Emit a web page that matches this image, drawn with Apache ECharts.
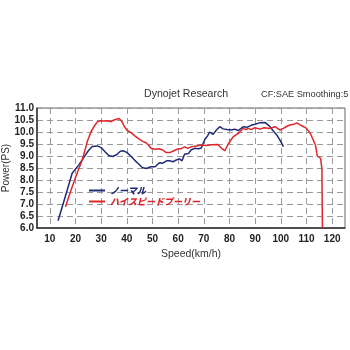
<!DOCTYPE html>
<html>
<head>
<meta charset="utf-8">
<script src="https://cdn.jsdelivr.net/npm/echarts@6/dist/echarts.min.js"></script>
<style>
  html, body { margin: 0; padding: 0; background: #fff; }
  #chart { width: 350px; height: 350px; }
</style>
</head>
<body>
<div id="chart"></div>
<script>
// Dyno power curves: speed (km/h) vs power (PS)
const seriesNames = ['ノーマル', 'ハイスピードプーリー'];

const normalSpeed = [13.2, 16, 18.7, 21.3, 23, 25, 26.5, 28.5, 30, 31.5, 33, 34.5, 36, 37.5, 38.5, 40, 41.5, 43, 44.5, 46, 47.5, 49.4, 51, 52.7, 54, 55.5, 56.6, 58, 59, 60.5, 61.5, 62.5, 64, 65, 66.4, 68, 69, 70.3, 71.5, 72.3, 73.6, 74.9, 76.2, 77.5, 79, 80.8, 82, 83.4, 85.3, 87, 88.6, 90, 91.9, 93.8, 95, 95.8, 97, 98.4, 100, 101];
const normalPower = [6.3, 7.3, 8.28, 8.63, 8.9, 9.22, 9.4, 9.42, 9.35, 9.18, 9.02, 8.98, 9.05, 9.2, 9.22, 9.15, 9.0, 8.83, 8.68, 8.52, 8.48, 8.55, 8.55, 8.72, 8.7, 8.8, 8.8, 8.76, 8.82, 8.88, 8.8, 9.07, 9.1, 9.25, 9.32, 9.3, 9.33, 9.67, 9.85, 10.0, 9.9, 10.08, 10.22, 10.13, 10.1, 10.08, 10.12, 10.06, 10.22, 10.2, 10.29, 10.32, 10.39, 10.4, 10.3, 10.22, 10.05, 9.88, 9.6, 9.39];

const pulleySpeed = [16.1, 18, 20, 22.6, 24.6, 26, 27.3, 28.5, 29.6, 31, 32.5, 33.8, 35, 37, 38, 39, 40, 41.5, 43, 44.8, 46, 47.5, 48.5, 49.4, 51, 52.5, 54, 55.2, 55.9, 57, 57.9, 59.8, 61, 62.5, 63.8, 65, 67, 69, 71, 73, 75.5, 76.9, 78.2, 79.5, 81.4, 83.4, 85.3, 86.5, 87.3, 88.5, 89.9, 91.9, 93.5, 95.8, 97.7, 99.7, 101, 102.5, 103.6, 105, 106.3, 107.5, 108.9, 110, 111.5, 112.5, 113.5, 114.2, 115.5, 116, 116.2];
const pulleyPower = [6.89, 7.5, 8.1, 8.83, 9.6, 10.0, 10.24, 10.42, 10.47, 10.46, 10.47, 10.43, 10.5, 10.56, 10.45, 10.24, 10.08, 9.98, 9.85, 9.7, 9.62, 9.55, 9.45, 9.32, 9.28, 9.3, 9.25, 9.15, 9.08, 9.15, 9.2, 9.29, 9.3, 9.38, 9.32, 9.38, 9.42, 9.46, 9.44, 9.47, 9.48, 9.32, 9.22, 9.5, 9.8, 9.94, 10.15, 10.1, 10.15, 10.1, 10.18, 10.12, 10.18, 10.15, 10.22, 10.08, 10.15, 10.25, 10.29, 10.32, 10.38, 10.3, 10.22, 10.15, 9.94, 9.7, 9.45, 9.0, 8.9, 8.45, 6.0];

const speedTicks = [10, 20, 30, 40, 50, 60, 70, 80, 90, 100, 110, 120];
const powerTicks = [6.0, 6.5, 7.0, 7.5, 8.0, 8.5, 9.0, 9.5, 10.0, 10.5, 11.0];

const headerLeft = 'Dynojet Research';
const headerRight = 'CF:SAE Smoothing:5';

const zip = (xs, ys) => xs.map((x, i) => [x, ys[i]]);

const chart = echarts.init(document.getElementById('chart'), null, { renderer: 'canvas' });
const font = 'Liberation Sans, Arial, sans-serif';
const dash = { color: '#9a9a9a', width: 1, type: [6, 4] };

chart.setOption({
  animation: false,
  graphic: [
    { type: 'text', left: 144, top: 89,
      style: { text: headerLeft, fontFamily: font, fontSize: 10.6, fill: '#333' } },
    { type: 'text', left: 261, top: 90,
      style: { text: headerRight, fontFamily: font, fontSize: 9.2, fill: '#333' } }
  ],
  grid: { left: 37, right: 5, top: 108, bottom: 122, show: true, borderColor: '#666', borderWidth: 1,
    containLabel: false, outerBoundsMode: 'none' },
  legend: {
    orient: 'vertical', left: 84, top: 181, itemGap: 2,
    itemWidth: 16, itemHeight: 2, icon: 'rect',
    textStyle: { fontFamily: 'Noto Sans CJK JP', fontSize: 9, fontWeight: 900, fontStyle: 'italic' },
    data: [
      { name: seriesNames[0], textStyle: { color: '#1f2b78' } },
      { name: seriesNames[1], textStyle: { color: '#e0262c' } }
    ]
  },
  xAxis: {
    type: 'value', min: 5, max: 125,
    name: 'Speed(km/h)', nameLocation: 'middle', nameGap: 21, nameMoveOverlap: false,
    nameTextStyle: { fontFamily: font, fontSize: 10.5, color: '#333' },
    axisLine: { lineStyle: { color: '#333', width: 1.5 } },
    axisTick: { show: false, customValues: speedTicks },
    axisLabel: { customValues: speedTicks, fontFamily: font, fontSize: 10, fontWeight: 'bold', color: '#222', margin: 6 },
    splitLine: { show: true, lineStyle: dash }
  },
  yAxis: {
    type: 'value', min: 6, max: 11, interval: 0.5,
    name: 'Power(PS)', nameLocation: 'middle', nameGap: 26, nameRotate: 90, nameMoveOverlap: false,
    nameTextStyle: { fontFamily: font, fontSize: 10, color: '#333' },
    axisLine: { show: true, lineStyle: { color: '#333', width: 1.5 } },
    axisTick: { show: false },
    axisLabel: { formatter: v => v.toFixed(1), fontFamily: font, fontSize: 10, fontWeight: 'bold', color: '#222', margin: 3,
      customValues: powerTicks },
    splitLine: { show: true, lineStyle: dash }
  },
  series: [
    { name: seriesNames[0], type: 'line', data: zip(normalSpeed, normalPower),
      showSymbol: false, lineStyle: { color: '#1f2b78', width: 1.5 }, itemStyle: { color: '#1f2b78' } },
    { name: seriesNames[1], type: 'line', data: zip(pulleySpeed, pulleyPower),
      showSymbol: false, lineStyle: { color: '#e0262c', width: 1.5 }, itemStyle: { color: '#e0262c' } }
  ]
});
</script>
</body>
</html>
